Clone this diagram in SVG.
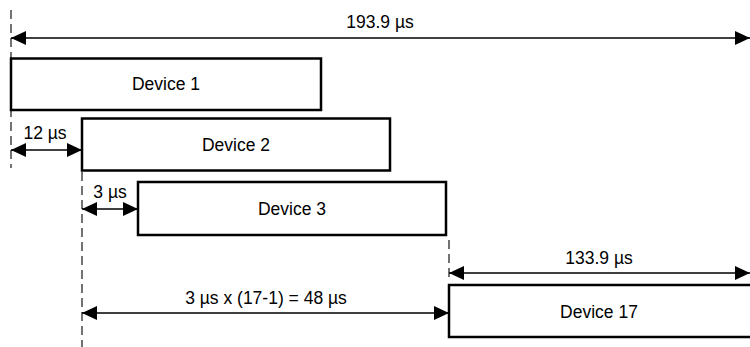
<svg xmlns="http://www.w3.org/2000/svg" width="750" height="347" viewBox="0 0 750 347">
<defs>
<marker id="ah" viewBox="0 0 15 14" refX="15" refY="7" markerWidth="15" markerHeight="14" markerUnits="userSpaceOnUse" orient="auto-start-reverse">
<path d="M0,0 L15,7 L0,14 Z" fill="#000"/>
</marker>
</defs>
<style>
.box{fill:#fff;stroke:#000;stroke-width:2.5}
.lbl{font-family:"Liberation Sans",Arial,sans-serif;font-size:17.5px;fill:#000}
.dim{stroke:#000;stroke-width:1.3;fill:none;marker-start:url(#ah);marker-end:url(#ah)}
.dash{stroke:#000;stroke-width:1.1;stroke-dasharray:9,5;fill:none}
</style>
<rect width="750" height="347" fill="#fff"/>
<g id="connectors">
<line class="dash" x1="11" y1="10" x2="11" y2="168"/>
<line class="dash" x1="82" y1="172" x2="82" y2="347"/>
<line class="dash" x1="449" y1="240" x2="449" y2="280"/>
<line class="dim" x1="11" y1="38" x2="750" y2="38"/>
<line class="dim" x1="11" y1="150" x2="82" y2="150"/>
<line class="dim" x1="82" y1="209" x2="138" y2="209"/>
<line class="dim" x1="449" y1="273" x2="750" y2="273"/>
<line class="dim" x1="82" y1="313" x2="449" y2="313"/>
<text class="lbl" x="380" y="28" text-anchor="middle">193.9 µs</text>
<text class="lbl" x="45" y="139" text-anchor="middle">12 µs</text>
<text class="lbl" x="110" y="198" text-anchor="middle">3 µs</text>
<text class="lbl" x="599" y="264" text-anchor="middle">133.9 µs</text>
<text class="lbl" x="266" y="304" text-anchor="middle">3 µs x (17-1) = 48 µs</text>
</g>
<g id="device1">
<rect class="box" x="11" y="58.5" width="310" height="51.5"/>
<text class="lbl" x="166" y="90" text-anchor="middle">Device 1</text>
</g>
<g id="device2">
<rect class="box" x="82" y="118.5" width="308" height="52"/>
<text class="lbl" x="236" y="151" text-anchor="middle">Device 2</text>
</g>
<g id="device3">
<rect class="box" x="138" y="182" width="308" height="53"/>
<text class="lbl" x="292" y="215" text-anchor="middle">Device 3</text>
</g>
<g id="device17">
<rect class="box" x="449" y="285" width="310" height="52"/>
<text class="lbl" x="599" y="318" text-anchor="middle">Device 17</text>
</g>
</svg>
